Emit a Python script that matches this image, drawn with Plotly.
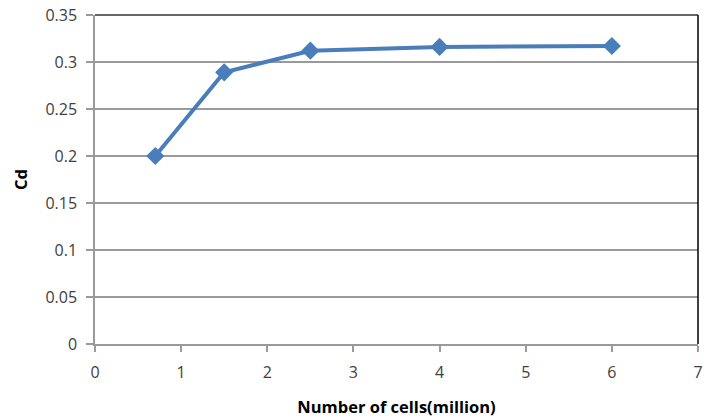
import plotly.graph_objects as go

cells_million = [0.7, 1.5, 2.5, 4.0, 6.0]
cd_values = [0.200, 0.289, 0.312, 0.316, 0.317]

x_ticks = [0, 1, 2, 3, 4, 5, 6, 7]
y_ticks = [0, 0.05, 0.1, 0.15, 0.2, 0.25, 0.3, 0.35]
y_tick_labels = ["0", "0.05", "0.1", "0.15", "0.2", "0.25", "0.3", "0.35"]

fig = go.Figure()
fig.add_trace(go.Scatter(
    x=cells_million, y=cd_values, mode="lines+markers",
    line=dict(color="#4a7ebb", width=4),
    marker=dict(symbol="diamond", size=14, color="#4a7ebb"),
    showlegend=False, cliponaxis=False,
))

font = dict(family="Open Sans, sans-serif", size=16, color="#404040")
title_font = dict(family="Open Sans, sans-serif", size=16.5, color="#000")

fig.update_layout(
    width=705, height=419,
    margin=dict(l=95, r=7, t=15, b=75),
    paper_bgcolor="white", plot_bgcolor="white",
    font=font,
    xaxis=dict(
        range=[0, 7], tickvals=x_ticks, showgrid=False, zeroline=False,
        showline=True, linecolor="#9a9a9a", linewidth=1.5,
        ticks="outside", ticklen=6, tickcolor="#9a9a9a", tickwidth=1.5,
        ticklabelstandoff=7, automargin=False,
        title=dict(text="<b>Number of cells(million)</b>", font=title_font, standoff=19),
    ),
    yaxis=dict(
        range=[0, 0.35], tickvals=y_ticks, ticktext=y_tick_labels,
        showgrid=True, gridcolor="#9a9a9a", gridwidth=1.5, zeroline=False,
        showline=True, linecolor="#9a9a9a", linewidth=1.5,
        ticks="outside", ticklen=7, tickcolor="#9a9a9a", tickwidth=1.5,
        ticklabelstandoff=6, automargin=False,
        title=dict(text="<b>Cd</b>", font=title_font, standoff=14),
    ),
    shapes=[
        dict(type="line", xref="paper", yref="paper", x0=0, x1=1, y0=1, y1=1,
             line=dict(color="#333333", width=1.5)),
        dict(type="line", xref="paper", yref="paper", x0=1, x1=1, y0=0, y1=1,
             line=dict(color="#000000", width=1.5)),
    ],
)

fig.write_html("out.html")
